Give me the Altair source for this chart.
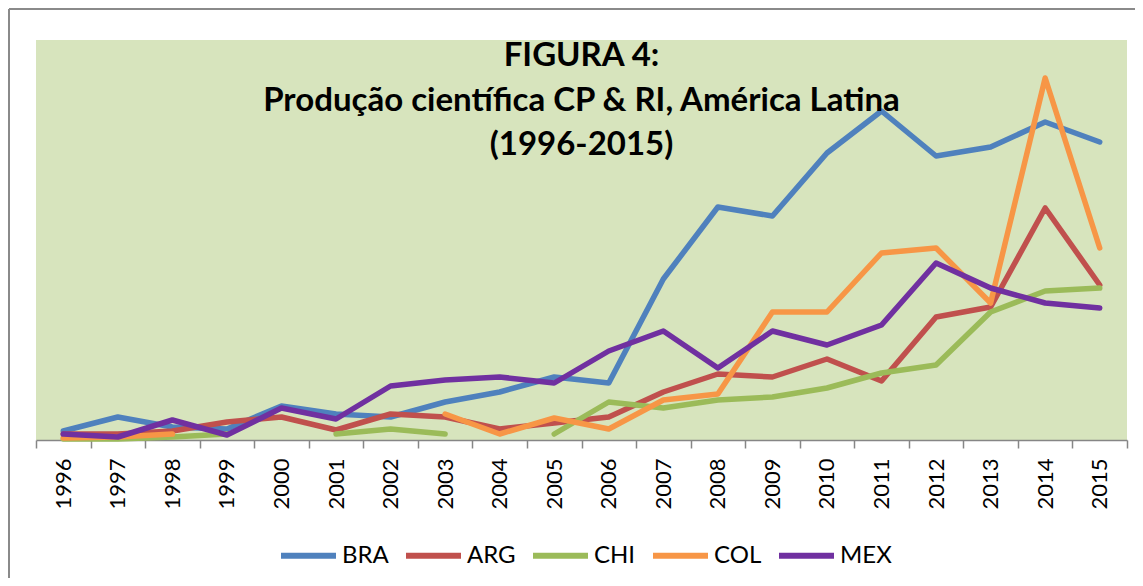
import altair as alt
import pandas as pd

years = [str(y) for y in range(1996, 2016)]
countries = ["BRA", "ARG", "CHI", "COL", "MEX"]
colors = ["#4F81BD", "#C0504D", "#9BBB59", "#F79646", "#7030A0"]

bra = [9, 23, 13, 11, 34, 26, 23, 38, 48, 63, 57, 161, 233, 224, 287, 329, 284, 293, 318, 298]
arg = [6, 6, 9, 18, 23, 10, 26, 23, 11, 17, 23, 48, 66, 63, 81, 59, 123, 133, 232, 155]
chi = [1, 1, 3, 6, None, 6, 11, 6, None, 6, 38, 32, 40, 43, 52, 67, 75, 128, 149, 152]
col = [2, 3, 6, None, None, None, None, 26, 6, 22, 11, 40, 46, 128, 128, 187, 192, 137, 362, 192]
mex = [6, 3, 20, 5, 32, 21, 54, 60, 63, 57, 89, 109, 72, 109, 95, 115, 177, 152, 137, 132]

series = {"BRA": bra, "ARG": arg, "CHI": chi, "COL": col, "MEX": mex}
rows = []
for name in countries:
    for yr, v in zip(years, series[name]):
        rows.append({"Ano": yr, "Pais": name, "Valor": v})
df = pd.DataFrame(rows)

title_lines = ["FIGURA 4:", "Produção científica CP & RI, América Latina", "(1996-2015)"]

lines = alt.Chart(df).mark_line(
    strokeWidth=5.5, strokeCap="round", strokeJoin="round",
    invalid="break-paths-show-domains"
).encode(
    x=alt.X("Ano:O", sort=years,
            scale=alt.Scale(type="band", paddingInner=0, paddingOuter=0),
            axis=alt.Axis(title=None, labelAngle=-90, labelAlign="right", labelBaseline="middle",
                          labelFont="Lato", labelFontSize=22, labelColor="black",
                          tickBand="extent", tickSize=8, tickColor="#868686", tickWidth=1.5,
                          domainColor="#868686", domainWidth=1.5, labelPadding=10, grid=False)),
    y=alt.Y("Valor:Q", scale=alt.Scale(domain=[0, 400]), axis=None),
    color=alt.Color("Pais:N", sort=countries,
                    scale=alt.Scale(domain=countries, range=colors),
                    legend=alt.Legend(title=None, orient="none", legendX=242, legendY=485,
                                      direction="horizontal", symbolType="stroke",
                                      symbolSize=3025, symbolStrokeWidth=6,
                                      labelFont="Lato", labelFontSize=24, labelColor="black",
                                      labelOffset=3, columnPadding=5, padding=0)),
)

frame_top = alt.Chart(df).mark_rule(color="#8a8a8a", strokeWidth=1.5).encode(
    x=alt.value(-27), x2=alt.value(1200), y=alt.value(-31))
frame_left = alt.Chart(df).mark_rule(color="#8a8a8a", strokeWidth=1.5).encode(
    x=alt.value(-27), y=alt.value(-31), y2=alt.value(600))

chart = alt.layer(frame_top, frame_left, lines).properties(
    width=1091, height=400,
    autosize=alt.AutoSizeParams(type="none"),
    padding={"left": 28, "top": 32, "right": 8, "bottom": 138},
    background="white",
    title=alt.TitleParams(text=title_lines, font="Lato", fontSize=33, fontWeight="bold",
                          color="black", anchor="middle", baseline="top", lineHeight=44.5,
                          offset=0, dy=154),
).configure_view(stroke=None, fill="#D7E4BD")

chart.save("out.html", embed_options={"renderer": "svg", "actions": False})
